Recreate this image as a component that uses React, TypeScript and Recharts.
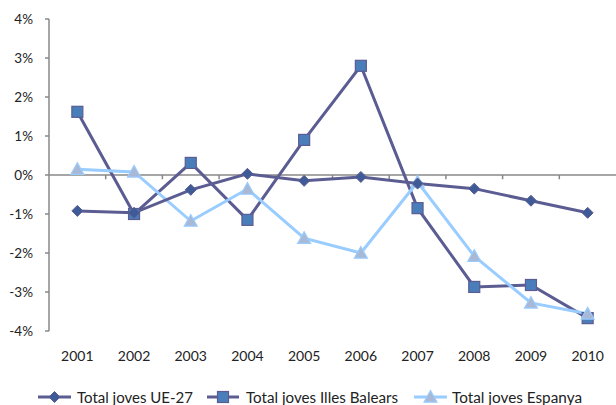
import React from 'react';
import { LineChart, Line, XAxis, YAxis, ReferenceLine } from 'recharts';

const years = ['2001', '2002', '2003', '2004', '2005', '2006', '2007', '2008', '2009', '2010'];
const ue27 = [-0.92, -0.97, -0.38, 0.03, -0.15, -0.05, -0.22, -0.35, -0.66, -0.97];
const balears = [1.62, -1.0, 0.31, -1.15, 0.9, 2.8, -0.85, -2.87, -2.82, -3.67];
const espanya = [0.15, 0.08, -1.18, -0.36, -1.62, -2.0, -0.18, -2.08, -3.28, -3.56];
const yTicks = [-4, -3, -2, -1, 0, 1, 2, 3, 4];
const names = ['Total joves UE-27', 'Total joves Illes Balears', 'Total joves Espanya'];

const data = years.map((y, i) => ({ x: i + 1, year: y, ue27: ue27[i], balears: balears[i], espanya: espanya[i] }));
const boundaries = years.slice(0, -1).map((_, i) => i + 1.5);

const LINE = '#5B5C92';
const LIGHT = '#99CCFF';
const FONT = 'Lato, "Open Sans", sans-serif';

const Diamond = (props: any) => {
  const { cx, cy, key } = props;
  if (cx == null || cy == null) return null;
  const r = 5.5;
  return <path key={key} d={`M${cx},${cy - r}L${cx + r},${cy}L${cx},${cy + r}L${cx - r},${cy}Z`} fill="#3F5B97" stroke={LINE} strokeWidth={1} />;
};
const Square = (props: any) => {
  const { cx, cy, key } = props;
  if (cx == null || cy == null) return null;
  const s = 11;
  return <rect key={key} x={cx - s / 2} y={cy - s / 2} width={s} height={s} fill="#4A7EBB" stroke={LINE} strokeWidth={1.2} />;
};
const Triangle = (props: any) => {
  const { cx, cy, key } = props;
  if (cx == null || cy == null) return null;
  const r = 6.5;
  return <path key={key} d={`M${cx},${cy - r}L${cx + r},${cy + r * 0.8}L${cx - r},${cy + r * 0.8}Z`} fill="#A9B8D4" stroke={LIGHT} strokeWidth={1.2} />;
};

const LegendContent = () => {
  const items = [
    { name: names[0], color: LINE, x: 38, w: 33, tx: 77, tl: 116, marker: 'd' },
    { name: names[1], color: LINE, x: 207, w: 32, tx: 246, tl: 152, marker: 's' },
    { name: names[2], color: LIGHT, x: 414, w: 33, tx: 452, tl: 130, marker: 't' },
  ];
  return (
    <svg width={616} height={24} style={{ display: 'block' }}>
      {items.map((it) => {
        const cx = it.x + it.w / 2;
        const cy = 16;
        return (
          <g key={it.name}>
            <line x1={it.x} y1={cy} x2={it.x + it.w} y2={cy} stroke={it.color} strokeWidth={3} />
            {it.marker === 'd' && <Diamond cx={cx} cy={cy} />}
            {it.marker === 's' && <Square cx={cx} cy={cy} />}
            {it.marker === 't' && <Triangle cx={cx} cy={cy} />}
            <text x={it.tx} y={cy + 5.5} fontSize={15.5} fontFamily={FONT} fill="#222" textLength={it.tl} lengthAdjust="spacingAndGlyphs">{it.name}</text>
          </g>
        );
      })}
    </svg>
  );
};

export default function App() {
  return (
    <div style={{ position: 'absolute', left: 0, top: 0, width: 616, height: 405, background: '#fff' }}>
      <LineChart width={616} height={381} data={data} margin={{ top: 19, right: 0, bottom: 0, left: 0 }}>
        <XAxis
          dataKey="x"
          type="number"
          domain={[0.5, 10.5]}
          ticks={data.map((d) => d.x)}
          tickFormatter={(v: number) => years[v - 1]}
          axisLine={false}
          tickLine={false}
          tickSize={0}
          tickMargin={20}
          height={50}
          tick={{ fill: '#222', fontSize: 14, fontFamily: FONT }}
        />
        <YAxis
          domain={[-4, 4]}
          ticks={yTicks}
          tickFormatter={(v: number) => `${v}%`}
          width={49}
          axisLine={{ stroke: '#888', strokeWidth: 1.5 }}
          tickLine={{ stroke: '#888', strokeWidth: 1.5 }}
          tickSize={4}
          tickMargin={12}
          tick={{ fill: '#222', fontSize: 13.5, fontFamily: FONT }}
          interval={0}
        />
        <ReferenceLine y={0} stroke="#888" strokeWidth={1.5} />
        {boundaries.map((b) => (
          <ReferenceLine key={b} segment={[{ x: b, y: 0 }, { x: b, y: -0.11 }]} stroke="#888" strokeWidth={1.5} />
        ))}
        <Line dataKey="balears" stroke={LINE} strokeWidth={3} dot={Square} activeDot={false} isAnimationActive={false} />
        <Line dataKey="espanya" stroke={LIGHT} strokeWidth={3} dot={Triangle} activeDot={false} isAnimationActive={false} />
        <Line dataKey="ue27" stroke={LINE} strokeWidth={3} dot={Diamond} activeDot={false} isAnimationActive={false} />
      </LineChart>
      <LegendContent />
    </div>
  );
}
